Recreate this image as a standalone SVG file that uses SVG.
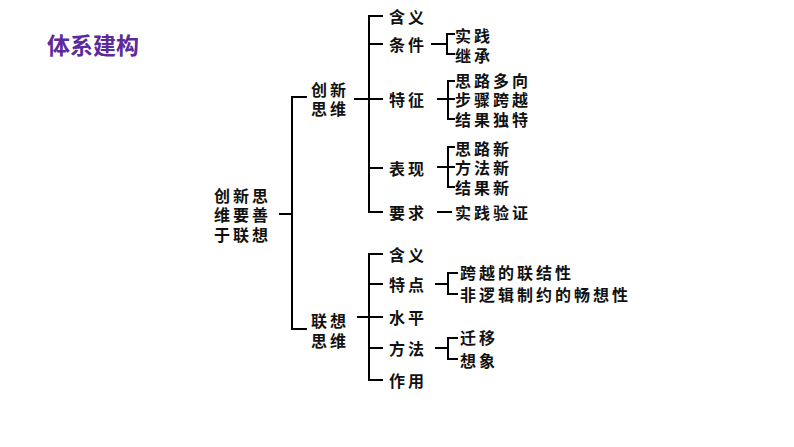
<svg xmlns="http://www.w3.org/2000/svg" width="794" height="447" viewBox="0 0 794 447">
<style>
text{font-family:"Noto Sans CJK SC","Noto Sans",sans-serif;font-size:16px;font-weight:bold;fill:#111;dominant-baseline:central;letter-spacing:3px}
.title{font-size:23px;fill:#5c2a9d;letter-spacing:0}
.c line,.c path{stroke:#000;stroke-width:2;fill:none}
</style>
<rect width="794" height="447" fill="#fff"/>
<text class="title" x="47" y="44">体系建构</text>
<g class="c" id="connectors">
<line x1="279" y1="214" x2="292" y2="214"/>
<path d="M307,97 H292 V329 H307"/>
<line x1="354" y1="99" x2="383" y2="99"/>
<path d="M383,16 H369 V212 H383"/>
<line x1="369" y1="44" x2="383" y2="44"/>
<line x1="369" y1="168" x2="383" y2="168"/>
<line x1="431" y1="44" x2="447" y2="44"/>
<path d="M455,34 H447 V54 H455"/>
<line x1="437" y1="99" x2="455" y2="99"/>
<path d="M455,81 H448 V119 H455"/>
<line x1="437" y1="167" x2="455" y2="167"/>
<path d="M455,147 H448 V187 H455"/>
<line x1="437" y1="212" x2="452" y2="212"/>
<line x1="357" y1="317" x2="383" y2="317"/>
<path d="M383,254 H369 V380 H383"/>
<line x1="369" y1="284" x2="383" y2="284"/>
<line x1="369" y1="348" x2="383" y2="348"/>
<line x1="435" y1="284" x2="448" y2="284"/>
<path d="M458,273 H448 V294 H458"/>
<line x1="435" y1="348" x2="448" y2="348"/>
<path d="M458,338 H448 V359 H458"/>
</g>
<g id="root"><text x="214" y="195">创新思</text><text x="214" y="214">维要善</text><text x="214" y="234">于联想</text></g>
<g id="cxsw"><text x="311" y="89">创新</text><text x="311" y="108">思维</text></g>
<g id="cx-hanyi"><text x="389" y="16">含义</text></g>
<g id="cx-tiaojian"><text x="389" y="44">条件</text></g>
<g id="shijian"><text x="455" y="35">实践</text></g>
<g id="jicheng"><text x="455" y="55">继承</text></g>
<g id="tezheng"><text x="389" y="99">特征</text></g>
<g id="tz1"><text x="455" y="80">思路多向</text></g>
<g id="tz2"><text x="455" y="99">步骤跨越</text></g>
<g id="tz3"><text x="455" y="119">结果独特</text></g>
<g id="biaoxian"><text x="389" y="168">表现</text></g>
<g id="bx1"><text x="455" y="148">思路新</text></g>
<g id="bx2"><text x="455" y="167">方法新</text></g>
<g id="bx3"><text x="455" y="187">结果新</text></g>
<g id="yaoqiu"><text x="389" y="212">要求</text></g>
<g id="yq1"><text x="455" y="212">实践验证</text></g>
<g id="lxsw"><text x="311" y="320">联想</text><text x="311" y="340">思维</text></g>
<g id="lx-hanyi"><text x="389" y="254">含义</text></g>
<g id="tedian"><text x="389" y="284">特点</text></g>
<g id="td1"><text x="460" y="272">跨越的联结性</text></g>
<g id="td2"><text x="460" y="294">非逻辑制约的畅想性</text></g>
<g id="shuiping"><text x="389" y="317">水平</text></g>
<g id="fangfa"><text x="389" y="348">方法</text></g>
<g id="ff1"><text x="460" y="337">迁移</text></g>
<g id="ff2"><text x="460" y="360">想象</text></g>
<g id="zuoyong"><text x="389" y="380">作用</text></g>
</svg>
